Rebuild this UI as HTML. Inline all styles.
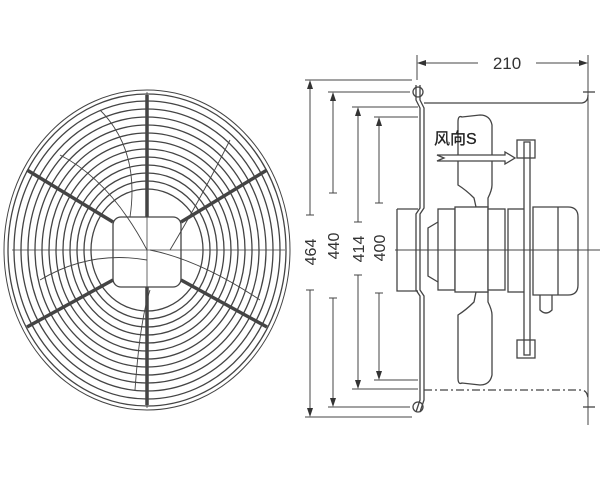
<!DOCTYPE html><html><head><style>body{margin:0;background:#fff}svg{display:block}</style></head><body>
<svg width="600" height="490" viewBox="0 0 600 490" xmlns="http://www.w3.org/2000/svg" font-family="Liberation Sans, Noto Sans CJK SC, sans-serif">
<g fill="none" stroke="#444" stroke-width="1.3">
<!-- left fan guard -->
<ellipse cx="147" cy="250" rx="143" ry="160" stroke-width="1"/>
<ellipse cx="147" cy="250" rx="139" ry="156"/>
<ellipse cx="147" cy="250" rx="133" ry="149"/>
<ellipse cx="147" cy="250" rx="126" ry="141"/>
<ellipse cx="147" cy="250" rx="119" ry="133"/>
<ellipse cx="147" cy="250" rx="112" ry="125"/>
<ellipse cx="147" cy="250" rx="105" ry="117"/>
<ellipse cx="147" cy="250" rx="98" ry="109"/>
<ellipse cx="147" cy="250" rx="91" ry="101"/>
<ellipse cx="147" cy="250" rx="84" ry="93"/>
<ellipse cx="147" cy="250" rx="77" ry="85"/>
<ellipse cx="147" cy="250" rx="70" ry="77"/>
<ellipse cx="147" cy="250" rx="63" ry="69"/>
<ellipse cx="147" cy="250" rx="56" ry="61"/>
<rect x="113" y="217" width="68" height="70" rx="8" fill="#fff"/>
<line x1="12" y1="250" x2="285" y2="250" stroke-width="0.8"/>
<line x1="147" y1="92" x2="147" y2="408" stroke-width="0.8"/>
<g stroke-width="3.5">
<line x1="147" y1="95" x2="147" y2="217"/><line x1="147" y1="287" x2="147" y2="405"/>
<line x1="27" y1="170" x2="113" y2="222"/><line x1="267" y1="170" x2="181" y2="222"/>
<line x1="27" y1="327" x2="113" y2="280"/><line x1="267" y1="327" x2="181" y2="280"/>
</g>
<g stroke-width="0.9">
<path d="M60 155 Q110 180 147 250"/><path d="M230 140 Q200 200 170 250"/>
<path d="M40 280 Q90 250 147 260"/><path d="M260 300 Q200 260 150 250"/>
<path d="M135 390 Q140 320 150 290"/><path d="M100 110 Q140 150 130 217"/>
</g>
<!-- right side dimension lines -->
<g stroke-width="1">
<line x1="417" y1="55" x2="417" y2="80"/><line x1="588" y1="55" x2="588" y2="425"/>
<line x1="420" y1="63" x2="478" y2="63"/><line x1="536" y1="63" x2="585" y2="63"/>
<line x1="305" y1="80" x2="412" y2="80"/><line x1="305" y1="417" x2="412" y2="417"/>
<line x1="328" y1="92" x2="410" y2="92"/><line x1="328" y1="407" x2="410" y2="407"/>
<line x1="352" y1="107" x2="418" y2="107"/><line x1="352" y1="389" x2="418" y2="389"/>
<line x1="374" y1="117" x2="418" y2="117"/><line x1="374" y1="380" x2="418" y2="380"/>
<line x1="310" y1="82" x2="310" y2="215"/><line x1="310" y1="290" x2="310" y2="415"/>
<line x1="333" y1="94" x2="333" y2="193"/><line x1="333" y1="298" x2="333" y2="405"/>
<line x1="358" y1="109" x2="358" y2="222"/><line x1="358" y1="275" x2="358" y2="387"/>
<line x1="379" y1="119" x2="379" y2="203"/><line x1="379" y1="293" x2="379" y2="378"/>
<line x1="306" y1="215" x2="314" y2="215"/><line x1="306" y1="290" x2="314" y2="290"/>
<line x1="329" y1="193" x2="337" y2="193"/><line x1="329" y1="298" x2="337" y2="298"/>
<line x1="354" y1="222" x2="362" y2="222"/><line x1="354" y1="275" x2="362" y2="275"/>
<line x1="375" y1="203" x2="383" y2="203"/><line x1="375" y1="293" x2="383" y2="293"/>
</g>
<g fill="#333" stroke="none">
<path d="M417 63l9-3v6z"/><path d="M588 63l-9-3v6z"/>
<path d="M310 80l-3 9h6z"/><path d="M310 417l-3-9h6z"/>
<path d="M333 92l-3 9h6z"/><path d="M333 407l-3-9h6z"/>
<path d="M358 107l-3 9h6z"/><path d="M358 389l-3-9h6z"/>
<path d="M379 117l-3 9h6z"/><path d="M379 380l-3-9h6z"/>
</g>
<!-- plate -->
<path d="M416 85 L416 100 L420 108 L420 208 L416 214 L416 290 L420 296 L420 400 L416 412"/>
<path d="M420 85 L420 100 L424 108 L424 208 L420 214 L420 290 L424 296 L424 400 L420 412"/>
<circle cx="418" cy="92" r="5"/><circle cx="418" cy="407" r="5"/>
<path d="M424 103 L582 103 Q588 102 588 95"/>
<path d="M424 390 L582 390 Q588 391 588 400" stroke-dasharray="8 3 2 3"/>
<line x1="583" y1="92" x2="595" y2="92"/><line x1="583" y1="407" x2="595" y2="407"/>
<!-- blades -->
<path d="M462 117 Q458 115 458 122 L458 185 Q466 190 474 198 L476 207 L488 207 L488 198 Q492 190 492 185 L492 125 Q490 115 480 115 Z"/>
<path d="M462 383 Q458 385 458 378 L458 315 Q466 310 474 302 L476 292 L488 292 L488 302 Q492 310 492 315 L492 375 Q490 385 480 385 Z"/>
<!-- motor -->
<path d="M397 209 L418 209 M397 209 L397 291 L418 291"/>
<path d="M438 222 L428 228 L428 276 L438 282"/>
<rect x="438" y="209" width="17" height="81" fill="#fff"/>
<rect x="455" y="207" width="33" height="85" fill="#fff"/>
<rect x="488" y="209" width="17" height="81" fill="#fff"/>
<rect x="508" y="209" width="17" height="83" fill="#fff"/>
<rect x="524" y="142" width="6" height="213" fill="#fff"/>
<rect x="517" y="140" width="18" height="18"/><rect x="517" y="340" width="18" height="18"/>
<path d="M533 207 L568 207 Q578 207 578 217 L578 285 Q578 295 568 295 L533 295 Z" fill="#fff"/>
<line x1="558" y1="207" x2="558" y2="295"/>
<path d="M540 295 L540 310 Q546 316 552 310 L552 295"/>
<line x1="395" y1="250" x2="600" y2="250" stroke-width="0.9"/>
<!-- wind arrow -->
<path d="M437 155 L505 155 L505 152 L515 158 L505 164 L505 161 L437 161 L444 158 Z" fill="#fff"/>
</g>
<text x="507" y="69" font-size="17" text-anchor="middle" fill="#333">210</text>
<text x="434" y="144" font-size="16" fill="#222" stroke="#222" stroke-width="0.3">风向S</text>
<g font-size="16" fill="#333" text-anchor="middle">
<text transform="translate(316 252) rotate(-90)">464</text>
<text transform="translate(339 246) rotate(-90)">440</text>
<text transform="translate(364 249) rotate(-90)">414</text>
<text transform="translate(385 248) rotate(-90)">400</text>
</g>
</svg>
</body></html>
